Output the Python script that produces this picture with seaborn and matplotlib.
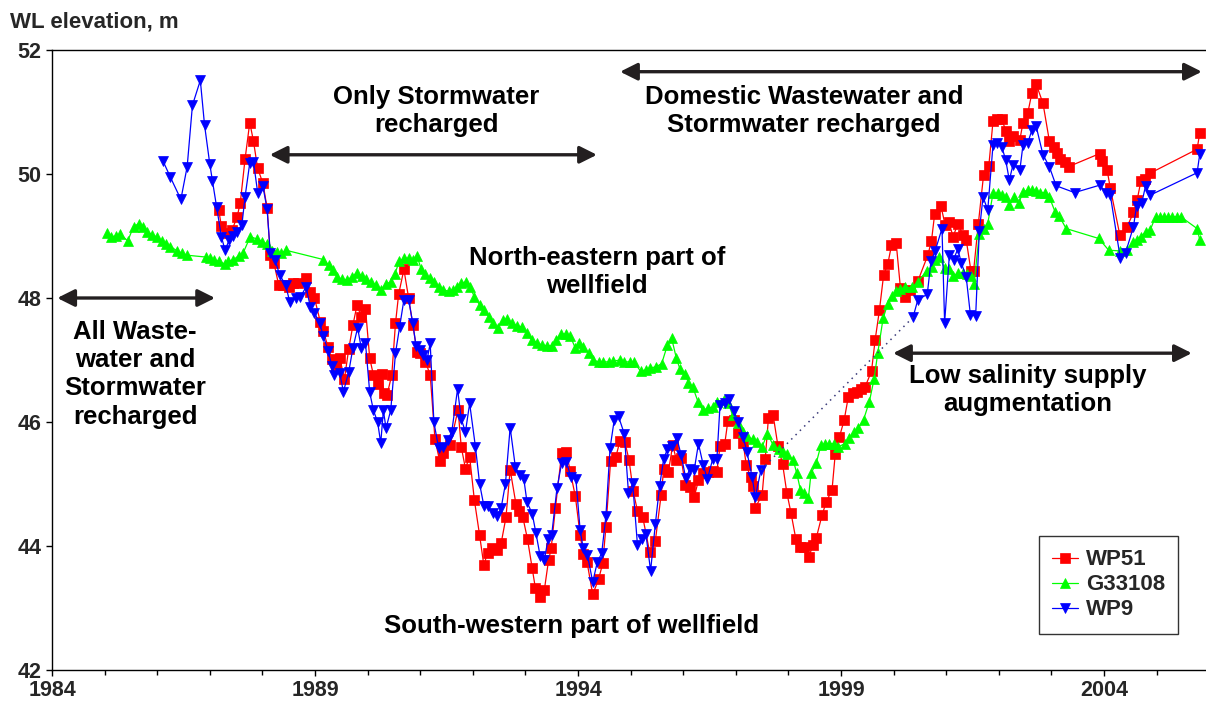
import numpy as np
import pandas as pd
import matplotlib
matplotlib.use("Agg")
import matplotlib.pyplot as plt
from matplotlib.ticker import FixedLocator
import seaborn as sns

# ---------------- data ----------------
wp51_year = [1987.17, 1987.22, 1987.32, 1987.42, 1987.52, 1987.58, 1987.67, 1987.76, 1987.83, 1987.91,
             1988.01, 1988.09, 1988.15, 1988.22, 1988.31, 1988.40, 1988.50, 1988.59, 1988.67, 1988.83,
             1988.91, 1988.99, 1989.10, 1989.16, 1989.25, 1989.32, 1989.39, 1989.47, 1989.56, 1989.64,
             1989.72, 1989.80, 1989.88, 1989.96, 1990.04, 1990.11, 1990.20, 1990.27, 1990.31, 1990.37,
             1990.46, 1990.53, 1990.59, 1990.69, 1990.78, 1990.86, 1990.94, 1991.00, 1991.10, 1991.19,
             1991.28, 1991.37, 1991.44, 1991.57, 1991.72, 1991.78, 1991.86, 1991.94, 1992.03, 1992.13,
             1992.21, 1992.28, 1992.36, 1992.46, 1992.54, 1992.63, 1992.71, 1992.82, 1992.88, 1992.95,
             1993.04, 1993.13, 1993.19, 1993.28, 1993.36, 1993.44, 1993.49, 1993.57, 1993.69, 1993.78,
             1993.85, 1993.95, 1994.04, 1994.10, 1994.17, 1994.28, 1994.39, 1994.47, 1994.53, 1994.62,
             1994.72, 1994.80, 1994.89, 1994.97, 1995.05, 1995.13, 1995.23, 1995.36, 1995.47, 1995.58,
             1995.63, 1995.72, 1995.80, 1995.87, 1995.96, 1996.04, 1996.13, 1996.21, 1996.29, 1996.37,
             1996.47, 1996.56, 1996.64, 1996.70, 1996.79, 1996.85, 1996.96, 1997.05, 1997.14, 1997.20,
             1997.28, 1997.33, 1997.37, 1997.50, 1997.56, 1997.62, 1997.71, 1997.80, 1997.89, 1997.97,
             1998.05, 1998.14, 1998.23, 1998.30, 1998.39, 1998.47, 1998.53, 1998.64, 1998.72, 1998.83,
             1998.89, 1998.97, 1999.06, 1999.14, 1999.23, 1999.30, 1999.38, 1999.46, 1999.58, 1999.65,
             1999.73, 1999.81, 1999.89, 1999.96, 2000.05, 2000.13, 2000.21, 2000.32, 2000.46, 2000.65,
             2000.72, 2000.78, 2000.90, 2000.98, 2001.05, 2001.13, 2001.22, 2001.32, 2001.38, 2001.47,
             2001.52, 2001.61, 2001.71, 2001.81, 2001.89, 2001.97, 2002.06, 2002.13, 2002.19, 2002.27,
             2002.40, 2002.46, 2002.55, 2002.63, 2002.71, 2002.84, 2002.96, 2003.04, 2003.10, 2003.17,
             2003.25, 2003.33, 2003.92, 2003.96, 2004.06, 2004.12, 2004.30, 2004.44, 2004.56, 2004.63,
             2004.70, 2004.77, 2004.87, 2005.77, 2005.82]
wp51_wl = [49.42, 49.16, 49.05, 49.09, 49.31, 49.54, 50.24, 50.83, 50.53, 50.09,
           49.85, 49.45, 48.69, 48.56, 48.21, 48.21, 48.18, 48.25, 48.25, 48.33,
           48.10, 48.00, 47.62, 47.46, 47.21, 47.01, 46.92, 47.03, 46.70, 47.17,
           47.56, 47.89, 47.69, 47.83, 47.03, 46.76, 46.62, 46.77, 46.46, 46.44,
           46.76, 47.59, 48.06, 48.46, 48.00, 47.56, 47.13, 47.12, 46.97, 46.76,
           45.73, 45.37, 45.50, 45.63, 46.20, 45.60, 45.25, 45.44, 44.74, 44.17,
           43.69, 43.89, 43.96, 43.94, 44.05, 44.46, 45.23, 44.68, 44.56, 44.47,
           44.11, 43.64, 43.32, 43.18, 43.29, 43.77, 43.96, 44.61, 45.50, 45.52,
           45.21, 44.80, 44.18, 43.87, 43.75, 43.22, 43.46, 43.72, 44.30, 45.37,
           45.44, 45.70, 45.68, 45.39, 44.88, 44.57, 44.47, 43.91, 44.08, 44.82,
           45.24, 45.20, 45.63, 45.39, 45.42, 44.98, 44.95, 44.79, 45.06, 45.17,
           45.20, 45.21, 45.20, 45.61, 45.65, 46.02, 46.03, 45.83, 45.66, 45.30,
           45.12, 44.96, 44.62, 44.82, 45.41, 46.06, 46.11, 45.62, 45.32, 44.86,
           44.53, 44.12, 43.98, 43.98, 43.83, 44.02, 44.13, 44.50, 44.71, 44.91,
           45.48, 45.76, 46.03, 46.41, 46.46, 46.49, 46.53, 46.57, 46.82, 47.33,
           47.80, 48.37, 48.55, 48.85, 48.88, 48.16, 48.01, 48.13, 48.27, 48.69,
           48.92, 49.35, 49.48, 49.18, 49.23, 48.99, 49.19, 49.02, 48.94, 48.44,
           48.43, 49.19, 49.98, 50.13, 50.85, 50.88, 50.88, 50.70, 50.53, 50.61,
           50.55, 50.83, 50.98, 51.31, 51.45, 51.14, 50.54, 50.44, 50.34, 50.24,
           50.20, 50.12, 50.33, 50.21, 50.06, 49.77, 49.02, 49.15, 49.38, 49.58,
           49.88, 49.92, 50.01, 50.40, 50.66]

g33108_year = [1985.04, 1985.13, 1985.22, 1985.30, 1985.44, 1985.55, 1985.65, 1985.73, 1985.81, 1985.90,
               1986.00, 1986.09, 1986.17, 1986.25, 1986.38, 1986.47, 1986.57, 1986.93, 1987.00, 1987.08,
               1987.18, 1987.28, 1987.35, 1987.45, 1987.55, 1987.63, 1987.77, 1987.90, 1987.99, 1988.09,
               1988.18, 1988.28, 1988.35, 1988.45, 1989.16, 1989.26, 1989.34, 1989.42, 1989.51, 1989.61,
               1989.70, 1989.80, 1989.89, 1989.97, 1990.06, 1990.16, 1990.26, 1990.35, 1990.45, 1990.52,
               1990.60, 1990.70, 1990.78, 1990.86, 1990.94, 1991.02, 1991.10, 1991.19, 1991.26, 1991.36,
               1991.44, 1991.54, 1991.62, 1991.70, 1991.78, 1991.87, 1991.95, 1992.03, 1992.13, 1992.22,
               1992.30, 1992.38, 1992.47, 1992.57, 1992.65, 1992.74, 1992.84, 1992.93, 1993.03, 1993.12,
               1993.22, 1993.31, 1993.41, 1993.50, 1993.58, 1993.68, 1993.77, 1993.85, 1993.95, 1994.02,
               1994.10, 1994.20, 1994.29, 1994.39, 1994.48, 1994.58, 1994.67, 1994.79, 1994.88, 1994.98,
               1995.07, 1995.19, 1995.29, 1995.37, 1995.48, 1995.59, 1995.70, 1995.78, 1995.87, 1995.94,
               1996.04, 1996.10, 1996.18, 1996.28, 1996.37, 1996.47, 1996.56, 1996.64, 1996.77, 1996.86,
               1996.94, 1997.05, 1997.14, 1997.22, 1997.32, 1997.41, 1997.50, 1997.60, 1997.71, 1997.82,
               1997.90, 1997.97, 1998.09, 1998.16, 1998.23, 1998.30, 1998.38, 1998.43, 1998.53, 1998.62,
               1998.70, 1998.78, 1998.86, 1998.95, 1999.07, 1999.16, 1999.25, 1999.33, 1999.43, 1999.54,
               1999.63, 1999.70, 1999.80, 1999.89, 1999.97, 2000.05, 2000.13, 2000.22, 2000.35, 2000.46,
               2000.63, 2000.73, 2000.79, 2000.87, 2000.97, 2001.06, 2001.13, 2001.22, 2001.32, 2001.39,
               2001.47, 2001.53, 2001.63, 2001.71, 2001.79, 2001.89, 2001.98, 2002.06, 2002.13, 2002.20,
               2002.29, 2002.38, 2002.46, 2002.55, 2002.63, 2002.71, 2002.79, 2002.88, 2002.96, 2003.07,
               2003.15, 2003.28, 2003.90, 2004.09, 2004.31, 2004.44, 2004.56, 2004.63, 2004.70, 2004.80,
               2004.88, 2004.98, 2005.06, 2005.14, 2005.22, 2005.30, 2005.38, 2005.46, 2005.77, 2005.82]
g33108_wl = [49.05, 48.99, 49.00, 49.03, 48.92, 49.15, 49.20, 49.15, 49.07, 49.02,
             48.98, 48.92, 48.87, 48.83, 48.76, 48.72, 48.69, 48.66, 48.64, 48.61,
             48.59, 48.55, 48.59, 48.62, 48.68, 48.72, 48.99, 48.95, 48.91, 48.87,
             48.76, 48.75, 48.72, 48.77, 48.62, 48.53, 48.45, 48.34, 48.30, 48.29,
             48.34, 48.41, 48.35, 48.30, 48.26, 48.21, 48.13, 48.23, 48.26, 48.39,
             48.59, 48.64, 48.64, 48.61, 48.68, 48.46, 48.38, 48.32, 48.26, 48.18,
             48.13, 48.11, 48.13, 48.18, 48.24, 48.26, 48.17, 48.02, 47.89, 47.81,
             47.70, 47.60, 47.51, 47.65, 47.66, 47.59, 47.55, 47.53, 47.44, 47.32,
             47.28, 47.24, 47.23, 47.23, 47.32, 47.42, 47.42, 47.39, 47.19, 47.27,
             47.21, 47.11, 47.00, 46.97, 46.97, 46.97, 46.98, 47.00, 46.97, 46.97,
             46.96, 46.82, 46.84, 46.87, 46.89, 46.94, 47.24, 47.35, 47.03, 46.85,
             46.77, 46.63, 46.57, 46.33, 46.19, 46.22, 46.24, 46.33, 46.35, 46.30,
             46.11, 45.98, 45.84, 45.77, 45.72, 45.67, 45.60, 45.81, 45.63, 45.56,
             45.52, 45.48, 45.39, 45.17, 44.90, 44.85, 44.77, 45.17, 45.34, 45.63,
             45.65, 45.65, 45.65, 45.60, 45.65, 45.75, 45.84, 45.90, 46.04, 46.33,
             46.70, 47.12, 47.67, 47.91, 48.03, 48.12, 48.14, 48.17, 48.17, 48.26,
             48.44, 48.50, 48.61, 48.66, 48.48, 48.46, 48.35, 48.40, 48.40, 48.39,
             48.35, 48.23, 49.04, 49.12, 49.20, 49.69, 49.69, 49.66, 49.63, 49.50,
             49.63, 49.53, 49.71, 49.74, 49.74, 49.73, 49.70, 49.70, 49.63, 49.39,
             49.32, 49.12, 48.96, 48.77, 48.76, 48.77, 48.91, 48.94, 48.99, 49.07,
             49.10, 49.31, 49.31, 49.31, 49.31, 49.31, 49.31, 49.31, 49.12, 48.94]

# WP9: record before the gap
wp9_a_year = [1986.11, 1986.25, 1986.45, 1986.57, 1986.67, 1986.82, 1986.90, 1987.00, 1987.05, 1987.13,
              1987.22, 1987.29, 1987.37, 1987.44, 1987.51, 1987.61, 1987.67, 1987.76, 1987.83, 1987.91,
              1988.01, 1988.09, 1988.15, 1988.24, 1988.33, 1988.44, 1988.52, 1988.63, 1988.72, 1988.83,
              1988.91, 1988.99, 1989.09, 1989.16, 1989.25, 1989.32, 1989.36, 1989.47, 1989.54, 1989.64,
              1989.72, 1989.81, 1989.88, 1989.96, 1990.04, 1990.11, 1990.19, 1990.25, 1990.30, 1990.35,
              1990.44, 1990.53, 1990.61, 1990.69, 1990.78, 1990.86, 1990.92, 1991.00, 1991.06, 1991.13,
              1991.19, 1991.26, 1991.35, 1991.44, 1991.52, 1991.60, 1991.71, 1991.78, 1991.86, 1991.94,
              1992.05, 1992.13, 1992.21, 1992.28, 1992.38, 1992.46, 1992.54, 1992.62, 1992.71, 1992.81,
              1992.89, 1992.97, 1993.03, 1993.13, 1993.20, 1993.28, 1993.36, 1993.43, 1993.50, 1993.60,
              1993.69, 1993.78, 1993.86, 1993.96, 1994.04, 1994.10, 1994.18, 1994.28, 1994.37, 1994.45,
              1994.53, 1994.61, 1994.69, 1994.77, 1994.88, 1994.96, 1995.04, 1995.13, 1995.22, 1995.29,
              1995.38, 1995.47, 1995.55, 1995.63, 1995.70, 1995.78, 1995.88, 1995.96, 1996.05, 1996.13,
              1996.21, 1996.29, 1996.38, 1996.46, 1996.56, 1996.64, 1996.70, 1996.79, 1996.87, 1996.96,
              1997.05, 1997.14, 1997.21, 1997.31, 1997.37, 1997.48]
wp9_a_wl = [50.21, 49.95, 49.59, 50.12, 51.11, 51.51, 50.79, 50.16, 49.89, 49.47,
            48.99, 48.77, 48.94, 49.00, 49.07, 49.18, 49.63, 50.18, 50.20, 49.70,
            49.80, 49.43, 48.72, 48.61, 48.37, 48.21, 47.94, 48.00, 48.01, 48.18,
            47.86, 47.76, 47.59, 47.38, 47.15, 46.90, 46.76, 46.79, 46.49, 46.80,
            47.19, 47.52, 47.19, 47.27, 46.48, 46.19, 46.00, 45.66, 46.19, 45.90,
            46.19, 47.11, 47.54, 47.97, 47.97, 47.59, 47.23, 47.16, 47.08, 47.00,
            47.27, 46.00, 45.58, 45.60, 45.71, 45.84, 46.53, 46.05, 45.84, 46.30,
            45.60, 45.00, 44.65, 44.64, 44.54, 44.48, 44.62, 45.00, 45.91, 45.27,
            45.15, 45.08, 44.71, 44.52, 44.21, 43.84, 43.77, 44.11, 44.18, 44.93,
            45.34, 45.36, 45.12, 45.08, 44.26, 43.96, 43.85, 43.42, 43.75, 43.88,
            44.48, 45.58, 46.04, 46.09, 45.81, 44.85, 45.01, 44.02, 44.12, 44.20,
            43.60, 44.35, 44.96, 45.41, 45.56, 45.62, 45.74, 45.47, 45.09, 45.25,
            45.23, 45.65, 45.31, 45.08, 45.40, 45.40, 46.27, 46.30, 46.37, 46.17,
            46.00, 45.76, 45.52, 45.12, 44.79, 45.23]
# WP9: record after the gap
wp9_b_year = [2000.37, 2000.46, 2000.64, 2000.71, 2000.79, 2000.92, 2000.97, 2001.06, 2001.14, 2001.22,
              2001.29, 2001.38, 2001.46, 2001.56, 2001.63, 2001.70, 2001.79, 2001.89, 2001.97, 2002.06,
              2002.13, 2002.20, 2002.27, 2002.40, 2002.46, 2002.55, 2002.63, 2002.71, 2002.84, 2002.96,
              2003.09, 2003.44, 2003.92, 2004.04, 2004.12, 2004.31, 2004.41, 2004.56, 2004.62, 2004.72,
              2004.79, 2004.88, 2005.77, 2005.82]
wp9_b_wl = [47.69, 47.97, 48.06, 48.59, 48.76, 49.12, 47.60, 48.69, 48.62, 48.79,
            48.56, 48.34, 47.73, 47.71, 49.08, 49.63, 49.42, 50.47, 50.50, 50.43,
            50.23, 49.90, 50.15, 50.06, 50.47, 50.50, 50.71, 50.77, 50.31, 50.12,
            49.81, 49.70, 49.82, 49.70, 49.66, 48.64, 48.73, 49.15, 49.49, 49.54,
            49.81, 49.66, 50.02, 50.32]

x_major_ticks = [1984, 1989, 1994, 1999, 2004]
y_ticks = [42, 44, 46, 48, 50, 52]

# ---------------- styling ----------------
sns.set_style("ticks")
plt.rcParams['font.family'] = ['Liberation Sans', 'DejaVu Sans']
plt.rcParams['font.weight'] = 'bold'

W, H = 1206, 701
fig = plt.figure(figsize=(W / 100, H / 100), dpi=100)
ax = fig.add_axes([52 / W, 31 / H, (W - 52) / W, 620 / H])

RED, GREEN, BLUE = '#ff0000', '#00ff00', '#0000ff'

df51 = pd.DataFrame({'year': wp51_year, 'wl': wp51_wl})
dfg = pd.DataFrame({'year': g33108_year, 'wl': g33108_wl})
df9a = pd.DataFrame({'year': wp9_a_year, 'wl': wp9_a_wl})
df9b = pd.DataFrame({'year': wp9_b_year, 'wl': wp9_b_wl})

common = dict(linewidth=0.9, markeredgewidth=0.5, ax=ax, estimator=None, sort=False)
sns.lineplot(data=df51, x='year', y='wl', color=RED, marker='s', markersize=6.5,
             markeredgecolor=RED, label='WP51', **common)
sns.lineplot(data=dfg, x='year', y='wl', color=GREEN, marker='^', markersize=7.5,
             markeredgecolor=GREEN, label='G33108', **common)
sns.lineplot(data=df9a, x='year', y='wl', color=BLUE, marker='v', markersize=7.5,
             markeredgecolor=BLUE, label='WP9', **common)
sns.lineplot(data=df9b, x='year', y='wl', color=BLUE, marker='v', markersize=7.5,
             markeredgecolor=BLUE, label='_nolegend_', **common)
# dotted connection across the WP9 data gap
ax.plot([wp9_a_year[-1], wp9_b_year[0]], [wp9_a_wl[-1], wp9_b_wl[0]],
        linestyle=(0, (1, 3)), color='#3a3a7a', linewidth=1.1)

ax.set_xlim(1984, 1984 + (W - 52) / 52.6)
ax.set_ylim(42, 52)
ax.xaxis.set_major_locator(FixedLocator(x_major_ticks))
ax.xaxis.set_minor_locator(FixedLocator(list(range(1985, 2006))))
ax.yaxis.set_major_locator(FixedLocator(y_ticks))
ax.set_xticklabels([str(t) for t in x_major_ticks])
ax.tick_params(axis='both', which='major', direction='out', length=4.5, width=1,
               color='black', labelsize=15.5, pad=3)
ax.tick_params(axis='x', which='minor', direction='out', length=3.5, width=1, color='black')
for lbl in ax.get_xticklabels() + ax.get_yticklabels():
    lbl.set_fontweight('bold')
ax.set_xlabel('')
ax.set_ylabel('')
for s in ['left', 'bottom', 'top']:
    ax.spines[s].set_color('black')
    ax.spines[s].set_linewidth(1)
ax.spines['right'].set_visible(False)

fig.text(10 / W, 1 - 22 / H, 'WL elevation, m', fontsize=16, fontweight='bold',
         va='center', ha='left')

# annotations
TXT = dict(fontsize=18.5, fontweight='bold', ha='center', va='center',
           linespacing=1.22, color='black')
ax.text(1991.31, 51.01, 'Only Stormwater\nrecharged', **TXT)
ax.text(1998.30, 51.01, 'Domestic Wastewater and\nStormwater recharged', **TXT)
ax.text(1994.36, 48.42, 'North-eastern part of\nwellfield', **TXT)
ax.text(1985.58, 46.77, 'All Waste-\nwater and\nStormwater\nrecharged', **TXT)
ax.text(2002.55, 46.51, 'Low salinity supply\naugmentation', **TXT)
ax.text(1993.87, 42.71, 'South-western part of wellfield', **TXT)

ARW = dict(arrowstyle='<|-|>', color='#231f20', lw=2.4, mutation_scale=26,
           shrinkA=0, shrinkB=0)
for (x0, x1, y) in [(1988.14, 1994.36, 50.31), (1994.80, 2005.86, 51.65),
                    (1984.10, 1987.10, 48.00), (1999.99, 2005.67, 47.11)]:
    ax.annotate('', xy=(x1, y), xytext=(x0, y), arrowprops=ARW, annotation_clip=False)

leg = ax.legend(loc='upper left', bbox_to_anchor=((1039 - 52) / (W - 52), (670 - 536) / 620),
                frameon=True, fancybox=False, edgecolor='black',
                prop={'size': 16, 'weight': 'bold', 'family': ['Liberation Sans', 'DejaVu Sans']},
                handlelength=1.15, handletextpad=0.35, borderpad=0.6, labelspacing=0.18,
                borderaxespad=0)
leg.get_frame().set_linewidth(1)
for t in leg.get_texts():
    t.set_fontweight('bold')

fig.savefig('out.png', dpi=100)
